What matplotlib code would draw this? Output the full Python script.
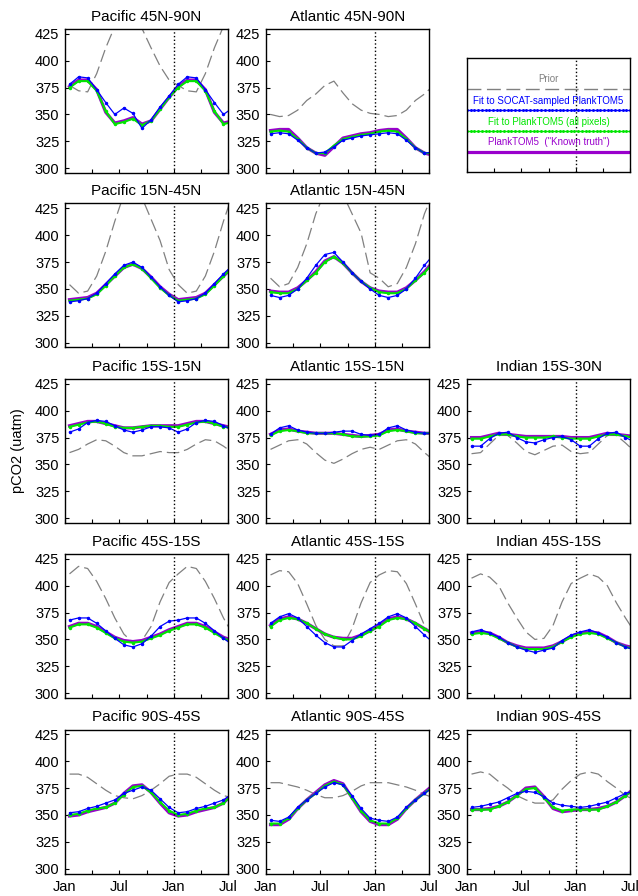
import numpy as np
import matplotlib
matplotlib.use("Agg")
import matplotlib.pyplot as plt

plt.rcParams['font.family'] = ['Liberation Sans', 'DejaVu Sans']

# mid-month pCO2 values (uatm), Jan..Dec; the plot shows 18 months (cycle repeated)
pac_n_prior = [377, 372, 371, 388, 412, 432, 442, 442, 430, 412, 395, 382]
pac_n_blue = [378, 385, 384, 373, 361, 350, 356, 351, 337, 345, 357, 367]
pac_n_green = [375, 381, 381, 372, 353, 341, 343, 346, 340, 344, 355, 366]
pac_n_purple = [376, 382, 382, 373, 352, 342, 344, 347, 341, 344, 355, 366]

atl_n_prior = [350, 348, 349, 354, 363, 369, 377, 381, 370, 360, 354, 351]
atl_n_blue = [332, 333, 332, 326, 319, 314, 315, 320, 326, 328, 330, 331]
atl_n_green = [334, 335, 334, 327, 319, 314, 314, 321, 327, 329, 331, 332]
atl_n_purple = [335, 336, 336, 328, 319, 314, 312, 320, 328, 330, 332, 333]

pac_nt_prior = [354, 346, 348, 362, 385, 413, 438, 445, 435, 415, 395, 368]
pac_nt_blue = [338, 339, 341, 346, 355, 364, 372, 375, 370, 361, 352, 344]
pac_nt_green = [339, 340, 341, 345, 353, 362, 370, 373, 369, 360, 351, 344]
pac_nt_purple = [340, 341, 342, 346, 354, 362, 370, 373, 369, 361, 352, 345]

atl_nt_prior = [360, 352, 355, 370, 392, 420, 440, 448, 438, 420, 402, 365]
atl_nt_blue = [344, 342, 344, 350, 360, 372, 382, 384, 375, 365, 357, 350]
atl_nt_green = [347, 346, 346, 350, 358, 365, 375, 380, 374, 365, 357, 351]
atl_nt_purple = [348, 347, 347, 351, 358, 366, 376, 380, 374, 365, 357, 351]

pac_eq_prior = [361, 364, 369, 373, 372, 367, 361, 358, 358, 360, 362, 361]
pac_eq_blue = [380, 383, 389, 391, 390, 386, 382, 380, 382, 385, 385, 384]
pac_eq_green = [385, 387, 389, 390, 388, 385, 384, 384, 385, 386, 386, 385]
pac_eq_purple = [386, 388, 390, 390, 388, 386, 384, 384, 385, 386, 386, 386]

atl_eq_prior = [364, 368, 372, 373, 369, 361, 354, 351, 355, 360, 364, 366]
atl_eq_blue = [378, 384, 386, 382, 380, 379, 379, 380, 381, 381, 378, 377]
atl_eq_green = [377, 381, 382, 381, 379, 379, 379, 379, 378, 376, 376, 376]
atl_eq_purple = [378, 382, 383, 381, 380, 379, 379, 379, 378, 377, 376, 377]

ind_eq_prior = [360, 361, 369, 377, 377, 370, 362, 359, 363, 367, 368, 362]
ind_eq_blue = [367, 367, 374, 379, 380, 375, 371, 370, 373, 375, 376, 373]
ind_eq_green = [374, 374, 376, 378, 378, 376, 375, 375, 375, 376, 375, 374]
ind_eq_purple = [375, 375, 377, 379, 378, 377, 376, 376, 376, 376, 376, 375]

pac_st_prior = [411, 418, 416, 404, 388, 370, 355, 347, 349, 362, 385, 403]
pac_st_blue = [368, 370, 370, 365, 358, 351, 345, 343, 346, 353, 362, 367]
pac_st_green = [361, 364, 364, 361, 356, 351, 348, 347, 348, 351, 354, 358]
pac_st_purple = [362, 365, 365, 362, 357, 352, 349, 348, 349, 352, 355, 359]

atl_st_prior = [410, 414, 413, 402, 383, 363, 350, 344, 344, 360, 384, 403]
atl_st_blue = [365, 371, 374, 370, 362, 354, 347, 343, 343, 349, 355, 360]
atl_st_green = [362, 368, 370, 369, 365, 360, 355, 352, 350, 350, 353, 358]
atl_st_purple = [363, 369, 371, 369, 365, 360, 355, 352, 351, 351, 354, 358]

ind_st_prior = [407, 411, 408, 400, 384, 370, 357, 350, 351, 363, 385, 402]
ind_st_blue = [357, 359, 356, 352, 347, 343, 340, 338, 340, 342, 349, 354]
ind_st_green = [355, 356, 355, 351, 347, 343, 341, 341, 341, 343, 348, 352]
ind_st_purple = [356, 357, 356, 352, 347, 344, 342, 342, 342, 344, 348, 353]

pac_s_prior = [388, 388, 385, 379, 373, 368, 366, 365, 368, 373, 379, 386]
pac_s_blue = [352, 353, 356, 358, 361, 364, 370, 373, 376, 373, 365, 357]
pac_s_green = [350, 351, 354, 356, 357, 361, 369, 376, 377, 371, 362, 354]
pac_s_purple = [349, 350, 353, 355, 357, 361, 370, 377, 378, 371, 361, 352]

atl_s_prior = [380, 380, 378, 376, 373, 369, 366, 366, 368, 372, 377, 380]
atl_s_blue = [345, 344, 348, 357, 364, 370, 376, 380, 378, 368, 356, 347]
atl_s_green = [342, 342, 347, 356, 364, 370, 377, 381, 378, 366, 354, 345]
atl_s_purple = [341, 341, 346, 356, 364, 371, 378, 382, 379, 366, 353, 344]

ind_s_prior = [388, 390, 388, 381, 375, 368, 364, 361, 361, 364, 374, 382]
ind_s_blue = [357, 358, 360, 362, 366, 370, 372, 371, 367, 361, 359, 358]
ind_s_green = [355, 355, 355, 358, 362, 368, 374, 375, 366, 357, 354, 355]
ind_s_purple = [355, 355, 356, 358, 362, 368, 375, 376, 367, 356, 353, 354]

panels = [
    (0, 0, "Pacific 45N-90N", pac_n_prior, pac_n_blue, pac_n_green, pac_n_purple),
    (0, 1, "Atlantic 45N-90N", atl_n_prior, atl_n_blue, atl_n_green, atl_n_purple),
    (1, 0, "Pacific 15N-45N", pac_nt_prior, pac_nt_blue, pac_nt_green, pac_nt_purple),
    (1, 1, "Atlantic 15N-45N", atl_nt_prior, atl_nt_blue, atl_nt_green, atl_nt_purple),
    (2, 0, "Pacific 15S-15N", pac_eq_prior, pac_eq_blue, pac_eq_green, pac_eq_purple),
    (2, 1, "Atlantic 15S-15N", atl_eq_prior, atl_eq_blue, atl_eq_green, atl_eq_purple),
    (2, 2, "Indian 15S-30N", ind_eq_prior, ind_eq_blue, ind_eq_green, ind_eq_purple),
    (3, 0, "Pacific 45S-15S", pac_st_prior, pac_st_blue, pac_st_green, pac_st_purple),
    (3, 1, "Atlantic 45S-15S", atl_st_prior, atl_st_blue, atl_st_green, atl_st_purple),
    (3, 2, "Indian 45S-15S", ind_st_prior, ind_st_blue, ind_st_green, ind_st_purple),
    (4, 0, "Pacific 90S-45S", pac_s_prior, pac_s_blue, pac_s_green, pac_s_purple),
    (4, 1, "Atlantic 90S-45S", atl_s_prior, atl_s_blue, atl_s_green, atl_s_purple),
    (4, 2, "Indian 90S-45S", ind_s_prior, ind_s_blue, ind_s_green, ind_s_purple),
]

month_ticks = [0, 3, 6, 9, 12, 15, 18]
month_labels = ["Jan", "", "Jul", "", "Jan", "", "Jul"]
y_ticks = [300, 325, 350, 375, 400, 425]

C_PRIOR = '#808080'
C_BLUE = '#0000ff'
C_GREEN = '#00e600'
C_PURPLE = '#9900cc'

W, H = 638, 896
fig = plt.figure(figsize=(W / 100, H / 100), dpi=100)

col_left = [65, 266, 467]
row_top = [29, 203.5, 379, 554, 729.5]
ax_w, ax_h = 163, 144

months = np.arange(0.5, 19.0)  # mid-month positions


def extend(v):
    return np.tile(v, 2)[:len(months)]


def style(ax, bottom_labels):
    ax.set_xlim(0, 18)
    ax.set_xticks(month_ticks)
    ax.set_xticklabels(month_labels if bottom_labels else [])
    ax.tick_params(direction='in', length=3, width=0.8, labelsize=10.5,
                   top=False, right=False, pad=4)
    ax.tick_params(axis='x', pad=5)
    for s in ax.spines.values():
        s.set_linewidth(1.0)
    ax.axvline(12, color='k', ls=':', lw=1)


for r, c, title, prior, blue, green, purple in panels:
    ax = fig.add_axes([col_left[c] / W, 1 - (row_top[r] + ax_h) / H, ax_w / W, ax_h / H])
    ax.plot(months, extend(prior), color=C_PRIOR, lw=0.9, dashes=(10, 4))
    ax.plot(months, extend(purple), color=C_PURPLE, lw=2.3)
    ax.plot(months, extend(green), color=C_GREEN, lw=1.5, marker='.', ms=3)
    ax.plot(months, extend(blue), color=C_BLUE, lw=0.9, marker='.', ms=3)
    ax.set_ylim(295.5, 429.5)
    ax.set_yticks(y_ticks)
    style(ax, r == 4)
    ax.set_title(title, fontsize=11, pad=6)

# legend box in the top-right slot
lg = fig.add_axes([467 / W, 1 - 172 / H, ax_w / W, 114 / H])
lg.set_ylim(0, 1)
lg.set_yticks([])
style(lg, False)
xs = np.linspace(0, 18, 45)
entries = [
    ("Prior", C_PRIOR, 0.816, 0.728),
    ("Fit to SOCAT-sampled PlankTOM5", C_BLUE, 0.623, 0.544),
    ("Fit to PlankTOM5 (all pixels)", C_GREEN, 0.439, 0.360),
    ("PlankTOM5  (\"Known truth\")", C_PURPLE, 0.263, 0.175),
]
for label, col, ty, ly in entries:
    lg.text(9, ty, label, color=col, fontsize=7, ha='center', va='center')
lg.plot([0, 18], [0.728, 0.728], color=C_PRIOR, lw=1.0, dashes=(10, 4))
lg.plot(xs, np.full_like(xs, 0.544), color=C_BLUE, lw=1.0, marker='.', ms=2.2)
lg.plot(xs, np.full_like(xs, 0.360), color=C_GREEN, lw=1.0, marker='.', ms=2.2)
lg.plot([0, 18], [0.175, 0.175], color=C_PURPLE, lw=2.3)

fig.text(18 / W, 1 - 451 / H, "pCO2 (uatm)", rotation=90, ha='center', va='center',
         fontsize=10.5)

fig.savefig("out.png", dpi=100)
